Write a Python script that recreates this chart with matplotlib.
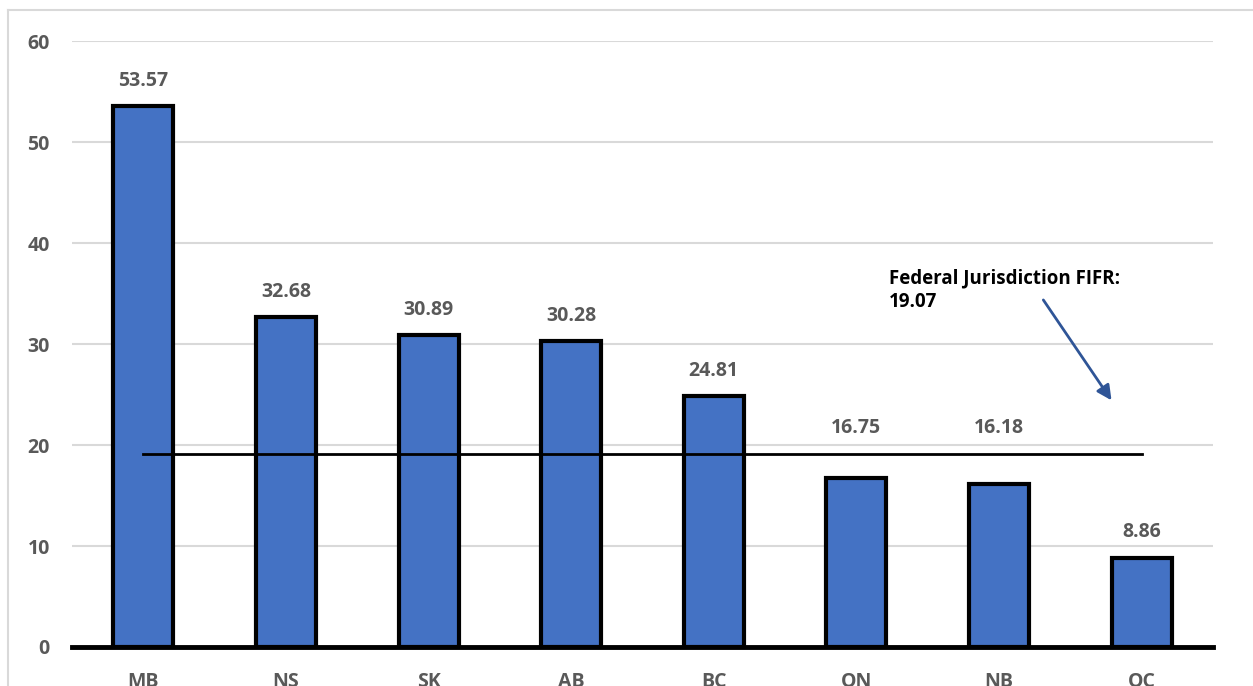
import numpy as np
import matplotlib.pyplot as plt
from matplotlib.lines import Line2D

# Data
provinces = ['MB', 'NS', 'SK', 'AB', 'BC', 'ON', 'NB', 'QC']
fifr = [53.57, 32.68, 30.89, 30.28, 24.81, 16.75, 16.18, 8.86]
federal_fifr = 19.07
y_ticks = [0, 10, 20, 30, 40, 50, 60]

plt.rcParams['font.family'] = ['Open Sans', 'DejaVu Sans']

fig = plt.figure(figsize=(12.53, 6.86), dpi=100)
ax = fig.add_axes([0.0575, 0.0569, 0.9105, 0.883])

x = np.arange(len(provinces))
ax.bar(x, fifr, width=0.42, color='#4472C4', edgecolor='black', linewidth=3, zorder=3)

# value labels above bars; labels that would sit on the federal line are lifted above it
for xi, v in zip(x, fifr):
    if v < federal_fifr < v + 4:
        ax.annotate('{:.2f}'.format(v), (xi, federal_fifr), xytext=(0, 12),
                    textcoords='offset points', ha='center', va='bottom',
                    fontsize=14, fontweight='bold', color='#595959')
    else:
        ax.annotate('{:.2f}'.format(v), (xi, v), xytext=(0, 11), textcoords='offset points',
                    ha='center', va='bottom', fontsize=14, fontweight='bold', color='#595959')

# federal jurisdiction line
ax.plot([x[0], x[-1]], [federal_fifr, federal_fifr], color='black', linewidth=2, zorder=4)
ax.text(5.23, 37.5, 'Federal Jurisdiction FIFR:\n' + '{:.2f}'.format(federal_fifr),
        ha='left', va='top', fontsize=13.5, fontweight='bold', color='black', linespacing=1.25)
ax.annotate('', xy=(6.80, 24.2), xytext=(6.30, 34.6),
            arrowprops=dict(arrowstyle='-|>', color='#2F5597', lw=2, mutation_scale=22))

ax.set_xlim(-0.5, len(provinces) - 0.5)
ax.set_ylim(0, 60)
ax.set_yticks(y_ticks)
ax.set_xticks(x)
ax.set_xticklabels(provinces)
ax.yaxis.grid(True, color='#D9D9D9', linewidth=1.5, zorder=0)
ax.set_axisbelow(True)

for s in ['top', 'right', 'left']:
    ax.spines[s].set_visible(False)
ax.spines['bottom'].set_linewidth(3.5)
ax.spines['bottom'].set_zorder(5)

ax.tick_params(axis='both', length=0, labelsize=14, labelcolor='#595959')
ax.tick_params(axis='x', pad=18)
ax.tick_params(axis='y', pad=16)
for lbl in ax.get_xticklabels() + ax.get_yticklabels():
    lbl.set_fontweight('bold')

# outer chart border (light gray, top and left visible)
fig.add_artist(Line2D([0.0064, 0.0064], [0, 0.985], color='#D9D9D9', linewidth=1.5,
                      transform=fig.transFigure))
fig.add_artist(Line2D([0.0064, 1.0], [0.985, 0.985], color='#D9D9D9', linewidth=1.5,
                      transform=fig.transFigure))

fig.savefig('out.png', dpi=100)
